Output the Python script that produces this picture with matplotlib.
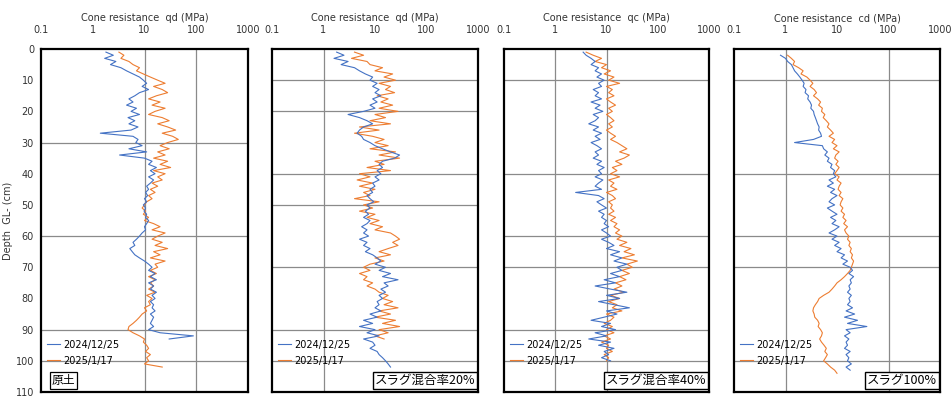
import numpy as np
import matplotlib
matplotlib.use("Agg")
import matplotlib.pyplot as plt

plt.rcParams['font.family'] = ['DejaVu Sans', 'Noto Sans CJK JP']

# ---- data (depth in cm, cone resistance in MPa) ----
p1_blue_depth = list(range(1, 94))
p1_blue = [1.8, 2.5, 1.7, 2.8, 2.2, 3.5, 4.5, 6.0, 8.0, 9.5,
           11, 9, 12, 8, 6.5, 5, 6, 4.5, 7, 5.5,
           8, 4.8, 6.5, 5, 7.5, 5.5, 1.4, 6, 7.5, 6.8,
           9, 5, 11, 3.3, 10, 14, 12, 17, 13, 16,
           12, 15, 13, 11, 12, 10.5, 11.5, 10, 11, 9.5,
           10.5, 9.8, 11, 10.5, 12, 11, 10, 10.5, 9, 8,
           7, 6, 6.5, 5.2, 5.8, 6.5, 8, 10, 12, 14,
           12, 16, 13, 17, 12, 15, 13, 17, 14, 16,
           13, 15, 14, 16, 13, 15, 14, 13, 15, 12,
           20, 88, 30]
p1_orange_depth = list(range(1, 103))
p1_orange = [3.2, 4, 3.5, 5, 6, 8, 7, 9.5, 13, 18,
             25, 15, 22, 28, 17, 12, 20, 14, 25, 16,
             12, 22, 30, 18, 28, 40, 22, 35, 45, 28,
             20, 30, 18, 25, 15, 28, 20, 32, 15, 25,
             18, 22, 14, 18, 13, 16, 12, 14, 11, 10,
             9, 10.5, 9.5, 12, 10, 15, 20, 14, 25, 18,
             14, 22, 16, 28, 15, 20, 13, 25, 16, 18,
             13, 17, 12, 16, 13, 15, 12, 16, 11, 14,
             12, 13, 10, 11, 9, 8, 7, 6, 5, 4.8,
             6, 8, 10, 9.5, 11, 12, 10.5, 13, 11, 12,
             10, 22]

p2_blue_depth = list(range(1, 103))
p2_blue = [1.8, 2.5, 1.6, 3, 2.2, 4, 5, 6.5, 9, 8,
           11, 9, 12, 10, 13, 9, 11, 8, 10, 6,
           3, 5, 7, 9, 6, 5, 4.5, 5.5, 6, 8,
           10, 14, 20, 30, 24, 14, 12, 14, 11, 13,
           10, 12, 9, 10, 8, 9, 7, 8, 9.5, 7,
           8, 6.5, 7.5, 6, 8, 7, 5.5, 7, 6, 7.5,
           5, 7, 6, 8, 6.5, 9, 11, 13, 10, 16,
           12, 20, 14, 28, 15, 18, 13, 16, 12, 14,
           11, 12, 10, 13, 8, 11, 6, 9, 5, 10,
           7, 12, 6, 9, 10, 8, 11, 12, 14, 16,
           18, 20]
p2_orange_depth = list(range(1, 94))
p2_orange = [4, 6, 3.5, 7, 8, 14, 10, 22, 15, 25,
             12, 20, 16, 24, 11, 18, 13, 22, 12, 28,
             10, 16, 8, 20, 5, 12, 4, 9, 15, 10,
             18, 8, 25, 12, 30, 10, 15, 7, 20, 5,
             8, 4.5, 9, 5, 10, 6, 8, 4, 12, 6,
             9, 5, 10, 7, 12, 8, 14, 10, 20, 25,
             30, 22, 28, 18, 12, 20, 10, 15, 8, 6,
             8, 5, 7, 6, 9, 7, 10, 12, 18, 14,
             22, 15, 28, 12, 20, 10, 25, 14, 30, 12,
             18, 10, 15]

p3_blue_depth = list(range(1, 101))
p3_blue = [3.5, 4, 5, 6, 5, 7, 6, 8, 6.5, 9,
           7, 8, 5.5, 7, 6, 8, 5, 7.5, 6, 8.5,
           5.5, 7, 6, 4.5, 7, 5.5, 8, 6, 7.5, 5,
           6.5, 8, 6, 7, 5.5, 8, 6.5, 9, 7, 8,
           6, 8.5, 7, 6, 8, 2.5, 7, 9, 6.5, 8,
           10, 7, 9, 8, 10, 9, 11, 8, 10, 12,
           8, 11, 14, 10, 18, 12, 20, 14, 25, 16,
           20, 12, 18, 9, 15, 6, 12, 25, 10, 18,
           7, 14, 28, 10, 16, 9, 5, 12, 8, 15,
           6, 10, 4.5, 12, 7, 14, 9, 11, 8, 12]
p3_orange_depth = list(range(1, 101))
p3_orange = [4, 5.5, 8, 6, 10, 8, 12, 9, 14, 11,
             18, 10, 13, 11, 14, 10, 12, 15, 11, 13,
             10, 12, 14, 11, 13, 10, 12, 15, 12, 16,
             20, 25, 18, 28, 22, 15, 20, 13, 16, 12,
             18, 11, 14, 12, 16, 10, 13, 15, 11, 13,
             12, 14, 11, 15, 12, 16, 14, 18, 15, 20,
             16, 25, 18, 30, 22, 35, 20, 40, 25, 32,
             20, 28, 18, 24, 15, 20, 14, 22, 12, 18,
             11, 16, 13, 20, 10, 14, 12, 9, 13, 10,
             14, 9, 12, 8, 11, 10, 13, 9, 11, 10]

p4_blue_depth = list(range(2, 104))
p4_blue = [0.8, 1.0, 1.1, 1.3, 1.4, 1.5, 1.7, 1.9, 2.1,
           2.3, 2.2, 2.5, 2.4, 2.8, 2.7, 3.0, 3.2, 3.1, 3.5,
           3.6, 3.8, 4.0, 4.2, 4.5, 4.4, 4.8, 5.0, 3.5, 1.5,
           5.2, 5.5, 6.5, 5.8, 7, 6.5, 8, 7.5, 9, 8.5,
           9.5, 7, 8.5, 6.5, 9, 7.5, 10, 8, 7, 9,
           6.5, 8, 10, 7.5, 9.5, 8, 11, 9, 7, 10,
           8, 11, 9, 12, 10, 14, 12, 16, 13, 18,
           20, 17, 21, 18, 19, 17, 18, 16, 19, 17,
           18, 16, 20, 15, 22, 14, 25, 16, 38, 15,
           18, 14, 17, 15, 16, 14, 18, 15, 17, 16,
           19, 15, 18]
p4_orange_depth = list(range(2, 105))
p4_orange = [1.1, 1.3, 1.5, 1.4, 1.8, 2.2, 2.0, 2.6, 3.0,
             3.4, 3.0, 3.6, 4.0, 3.5, 4.2, 4.8, 4.4, 5.2, 5.0,
             5.8, 5.4, 6.2, 7.0, 6.5, 7.5, 8.5, 7.0, 9.0, 8.0,
             10, 8.5, 11, 9.5, 9, 10.5, 9.5, 11, 10, 9,
             11, 10, 12, 11, 10.5, 12, 11, 13, 12, 11.5,
             13, 12, 14, 13, 15, 13.5, 16, 14, 15, 17,
             16, 18, 17, 19, 18, 20, 19, 21, 20, 19,
             18, 16, 14, 12, 10, 9, 8, 7, 5.5, 4.5,
             4.2, 3.8, 3.5, 3.4, 3.6, 3.7, 4.2, 4.5, 4.3, 4.8,
             5.2, 5.0, 4.6, 5.0, 5.6, 6.2, 5.8, 6.5, 6.0, 5.5,
             6.5, 7.5, 9, 10]

legend_labels = ["2024/12/25", "2025/1/17"]
titles = ["Cone resistance  qd (MPa)", "Cone resistance  qd (MPa)",
          "Cone resistance  qc (MPa)", "Cone resistance  cd (MPa)"]
box_labels = ["原土", "スラグ混合率20%", "スラグ混合率40%", "スラグ100%"]
x_ticks = [0.1, 1, 10, 100, 1000]
x_ticklabels = ["0.1", "1", "10", "100", "1000"]
h_grid = [[30, 60, 90, 100], [10, 20, 40, 50, 70, 90, 100],
          [10, 40, 60, 70, 90, 100], [10, 40, 60, 70, 100]]
v_grid = [[10, 100], [1], [1, 10], [1, 100]]

series = [(p1_blue_depth, p1_blue, p1_orange_depth, p1_orange),
          (p2_blue_depth, p2_blue, p2_orange_depth, p2_orange),
          (p3_blue_depth, p3_blue, p3_orange_depth, p3_orange),
          (p4_blue_depth, p4_blue, p4_orange_depth, p4_orange)]

BLUE = "#4472C4"
ORANGE = "#ED7D31"

fig = plt.figure(figsize=(9.51, 3.97), dpi=100)
lefts = [41, 272, 504, 734]
widths = [207, 206, 205, 206]
top_px, bot_px = 49, 392

for i in range(4):
    ax = fig.add_axes([lefts[i] / 951, 1 - bot_px / 397, widths[i] / 951, (bot_px - top_px) / 397])
    bd, bv, od, ov = series[i]
    ax.set_xscale("log")
    ax.set_xlim(0.1, 1000)
    ax.set_ylim(110, 0)
    for g in h_grid[i]:
        ax.axhline(g, color="#8a8a8a", lw=0.9, zorder=1)
    for g in v_grid[i]:
        ax.axvline(g, color="#8a8a8a", lw=0.9, zorder=1)
    ax.plot(bv, bd, color=BLUE, lw=0.8, label=legend_labels[0], zorder=3)
    ax.plot(ov, od, color=ORANGE, lw=0.8, label=legend_labels[1], zorder=2)

    ax.xaxis.tick_top()
    ax.set_xticks(x_ticks)
    ax.set_xticklabels(x_ticklabels)
    ax.minorticks_off()
    ax.tick_params(axis="x", length=0, labelsize=7, pad=10, colors="#333333")
    ax.set_title(titles[i], fontsize=7, pad=20, color="#333333")
    if i == 0:
        ax.set_yticks(range(0, 111, 10))
        ax.tick_params(axis="y", length=0, labelsize=7, pad=5, colors="#333333")
        ax.set_ylabel("Depth  GL- (cm)", fontsize=7, color="#333333", labelpad=2)
    else:
        ax.set_yticks([])
    for s in ax.spines.values():
        s.set_linewidth(1.6)
        s.set_color("black")

    ax.legend(loc="lower left", bbox_to_anchor=(0.0, 0.06), frameon=False,
              fontsize=7, handlelength=1.4, handletextpad=0.3, labelspacing=0.6,
              borderaxespad=0.2)

    if i == 0:
        ax.text(0.05, 0.015, box_labels[i], transform=ax.transAxes, fontsize=8.5,
                family=["Noto Sans CJK JP", "DejaVu Sans"], va="bottom", ha="left",
                bbox=dict(boxstyle="square,pad=0.15", fc="white", ec="black", lw=0.9))
    else:
        ax.text(0.985, 0.015, box_labels[i], transform=ax.transAxes, fontsize=9,
                family=["Noto Sans CJK JP", "DejaVu Sans"], va="bottom", ha="right",
                bbox=dict(boxstyle="square,pad=0.15", fc="white", ec="black", lw=1.0))

fig.savefig("out.png", dpi=100)
